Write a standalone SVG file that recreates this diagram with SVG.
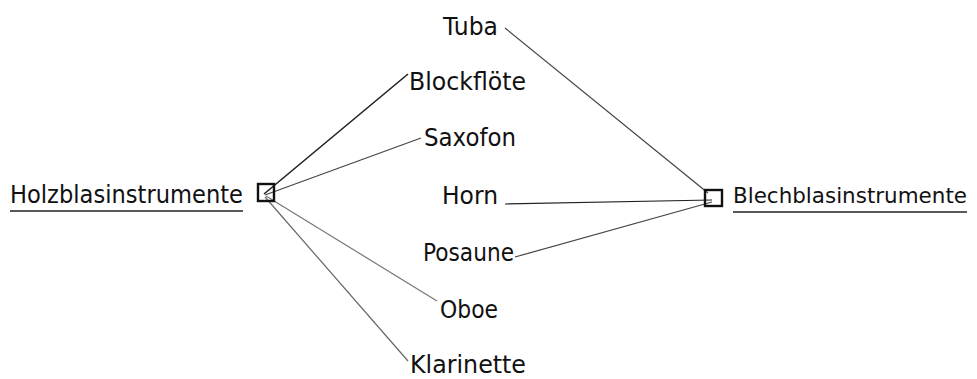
<svg xmlns="http://www.w3.org/2000/svg" width="977" height="379" viewBox="0 0 977 379">
<style>
.t{font-family:"DejaVu Sans","Liberation Sans",sans-serif;font-size:25px;fill:#111}
.c{stroke:#444;stroke-width:1.2;fill:none}
.b{fill:none;stroke:#111;stroke-width:2.4}
.u{stroke:#222;stroke-width:1.5}
</style>
<rect width="977" height="379" fill="#fff"/>
<g id="connectors">
<line class="c" x1="505" y1="28" x2="708" y2="193"/>
<line class="c" x1="408" y1="74" x2="264" y2="194" style="stroke:#222;stroke-width:1.6"/>
<line class="c" x1="421" y1="138" x2="265" y2="195"/>
<line class="c" x1="505" y1="204" x2="712" y2="200" style="stroke:#222"/>
<line class="c" x1="515" y1="257" x2="712" y2="202"/>
<line class="c" x1="437" y1="301" x2="266" y2="196" style="stroke:#777"/>
<line class="c" x1="408" y1="361" x2="265" y2="197" style="stroke:#666"/>
</g>
<g id="holz">
<text class="t" x="10" y="203" textLength="233" lengthAdjust="spacingAndGlyphs">Holzblasinstrumente</text>
<line class="u" x1="10" y1="211" x2="243" y2="211"/>
<rect class="b" x="258" y="184" width="16" height="17"/>
</g>
<g id="blech">
<rect class="b" x="705" y="190" width="17" height="16"/>
<text class="t" x="733" y="203" style="font-size:22px" textLength="234" lengthAdjust="spacingAndGlyphs">Blechblasinstrumente</text>
<line class="u" x1="733" y1="212" x2="967" y2="212"/>
</g>
<g id="tuba"><text class="t" x="443" y="35" textLength="55" lengthAdjust="spacingAndGlyphs">Tuba</text></g>
<g id="blockfloete"><text class="t" x="409" y="90" textLength="117" lengthAdjust="spacingAndGlyphs">Blockflöte</text></g>
<g id="saxofon"><text class="t" x="424" y="146" textLength="92" lengthAdjust="spacingAndGlyphs">Saxofon</text></g>
<g id="horn"><text class="t" x="442" y="204" textLength="56" lengthAdjust="spacingAndGlyphs">Horn</text></g>
<g id="posaune"><text class="t" x="423" y="261" textLength="91" lengthAdjust="spacingAndGlyphs">Posaune</text></g>
<g id="oboe"><text class="t" x="440" y="318" textLength="58" lengthAdjust="spacingAndGlyphs">Oboe</text></g>
<g id="klarinette"><text class="t" x="410" y="373" textLength="116" lengthAdjust="spacingAndGlyphs">Klarinette</text></g>
</svg>
